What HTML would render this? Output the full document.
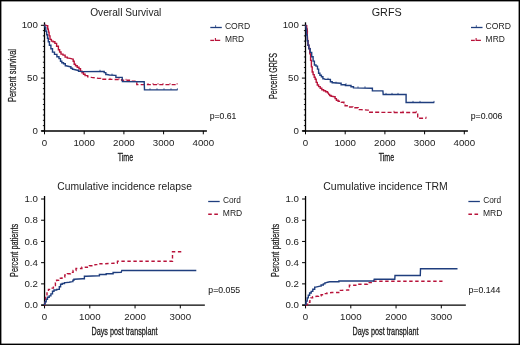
<!DOCTYPE html>
<html><head><meta charset="utf-8"><style>
html,body{margin:0;padding:0;background:#fff;}
body{width:520px;height:345px;overflow:hidden;}
svg{display:block;font-family:"Liberation Sans", sans-serif;will-change:transform;}
svg text{fill:#1c1c1c;}
.b{stroke:#1c1c1c;stroke-width:0.08px;}
</style></head><body>
<svg width="520" height="345" viewBox="0 0 520 345">
<rect x="0" y="0" width="520" height="345" fill="#fff"/>
<line x1="44.5" y1="22.3" x2="44.5" y2="131.5" stroke="#000" stroke-width="1.3"/>
<line x1="41.3" y1="130.9" x2="206.9" y2="130.9" stroke="#000" stroke-width="1.5"/>
<line x1="40.9" y1="130.90" x2="44.5" y2="130.90" stroke="#000" stroke-width="1"/>
<line x1="42.9" y1="125.62" x2="44.5" y2="125.62" stroke="#000" stroke-width="0.9"/>
<line x1="42.9" y1="120.34" x2="44.5" y2="120.34" stroke="#000" stroke-width="0.9"/>
<line x1="42.9" y1="115.06" x2="44.5" y2="115.06" stroke="#000" stroke-width="0.9"/>
<line x1="42.9" y1="109.78" x2="44.5" y2="109.78" stroke="#000" stroke-width="0.9"/>
<line x1="42.9" y1="104.50" x2="44.5" y2="104.50" stroke="#000" stroke-width="0.9"/>
<line x1="42.9" y1="99.22" x2="44.5" y2="99.22" stroke="#000" stroke-width="0.9"/>
<line x1="42.9" y1="93.94" x2="44.5" y2="93.94" stroke="#000" stroke-width="0.9"/>
<line x1="42.9" y1="88.66" x2="44.5" y2="88.66" stroke="#000" stroke-width="0.9"/>
<line x1="42.9" y1="83.38" x2="44.5" y2="83.38" stroke="#000" stroke-width="0.9"/>
<line x1="40.9" y1="78.10" x2="44.5" y2="78.10" stroke="#000" stroke-width="1"/>
<line x1="42.9" y1="72.82" x2="44.5" y2="72.82" stroke="#000" stroke-width="0.9"/>
<line x1="42.9" y1="67.54" x2="44.5" y2="67.54" stroke="#000" stroke-width="0.9"/>
<line x1="42.9" y1="62.26" x2="44.5" y2="62.26" stroke="#000" stroke-width="0.9"/>
<line x1="42.9" y1="56.98" x2="44.5" y2="56.98" stroke="#000" stroke-width="0.9"/>
<line x1="42.9" y1="51.70" x2="44.5" y2="51.70" stroke="#000" stroke-width="0.9"/>
<line x1="42.9" y1="46.42" x2="44.5" y2="46.42" stroke="#000" stroke-width="0.9"/>
<line x1="42.9" y1="41.14" x2="44.5" y2="41.14" stroke="#000" stroke-width="0.9"/>
<line x1="42.9" y1="35.86" x2="44.5" y2="35.86" stroke="#000" stroke-width="0.9"/>
<line x1="42.9" y1="30.58" x2="44.5" y2="30.58" stroke="#000" stroke-width="0.9"/>
<line x1="40.9" y1="25.30" x2="44.5" y2="25.30" stroke="#000" stroke-width="1"/>
<line x1="44.50" y1="130.9" x2="44.50" y2="134.3" stroke="#000" stroke-width="1"/>
<text x="44.5" y="146.2" font-size="9.7" text-anchor="middle" >0</text>
<line x1="84.20" y1="130.9" x2="84.20" y2="134.3" stroke="#000" stroke-width="1"/>
<text x="84.2" y="146.2" font-size="9.7" text-anchor="middle" >1000</text>
<line x1="123.90" y1="130.9" x2="123.90" y2="134.3" stroke="#000" stroke-width="1"/>
<text x="123.9" y="146.2" font-size="9.7" text-anchor="middle" >2000</text>
<line x1="163.60" y1="130.9" x2="163.60" y2="134.3" stroke="#000" stroke-width="1"/>
<text x="163.6" y="146.2" font-size="9.7" text-anchor="middle" >3000</text>
<line x1="203.30" y1="130.9" x2="203.30" y2="134.3" stroke="#000" stroke-width="1"/>
<text x="203.3" y="146.2" font-size="9.7" text-anchor="middle" >4000</text>
<text x="37.9" y="27.7" font-size="9.7" text-anchor="end" >100</text>
<text x="37.9" y="81.3" font-size="9.7" text-anchor="end" >50</text>
<text x="37.9" y="134.1" font-size="9.7" text-anchor="end" >0</text>
<text x="90.2" y="15.8" font-size="10.3" text-anchor="start" textLength="71.2" lengthAdjust="spacingAndGlyphs" >Overall Survival</text>
<text x="125.5" y="160.8" font-size="10.6" text-anchor="middle" textLength="15.6" lengthAdjust="spacingAndGlyphs" stroke="#1c1c1c" stroke-width="0.3">Time</text>
<text transform="translate(15.6,75.5) rotate(-90)" font-size="10.4" text-anchor="middle" stroke="#1c1c1c" stroke-width="0.25" textLength="53" lengthAdjust="spacingAndGlyphs">Percent survival</text>
<text x="209.8" y="118.6" font-size="8.9" text-anchor="start" textLength="26.6" lengthAdjust="spacingAndGlyphs" class="b">p=0.61</text>
<line x1="210.3" y1="27.5" x2="221.8" y2="27.5" stroke="#1f3e7e" stroke-width="1.3"/>
<line x1="215.60000000000002" y1="27.5" x2="215.60000000000002" y2="25.2" stroke="#1f3e7e" stroke-width="0.8"/>
<line x1="210.3" y1="40.4" x2="214.10000000000002" y2="40.4" stroke="#b8133a" stroke-width="1.3"/>
<polyline points="215.4,38.0 215.4,40.4 220.20000000000002,40.4" fill="none" stroke="#b8133a" stroke-width="1.1"/>
<text x="224.9" y="28.8" font-size="8.6" text-anchor="start" textLength="25.3" lengthAdjust="spacingAndGlyphs" >CORD</text>
<text x="224.9" y="41.8" font-size="8.6" text-anchor="start" textLength="19.2" lengthAdjust="spacingAndGlyphs" >MRD</text>
<polyline points="44.3,25.3 45.3,25.3 47.1,25.7 47.7,25.7 47.7,29.0 48.2,29.0 48.8,32.4 49.1,32.4 49.1,35.9 49.4,35.9 50.0,35.9 50.0,39.4 50.5,39.4 51.4,39.4 51.4,41.1 52.3,41.1 53.1,41.1 53.1,41.7 54.0,41.7 54.9,41.7 54.9,43.4 55.7,43.4 56.6,43.4 56.6,46.3 57.5,46.3 58.4,46.3 58.4,49.8 59.2,49.8 59.6,49.8 59.6,52.0 60.0,52.0 61.0,52.0 61.0,54.1 62.0,54.1 63.0,54.1 63.0,55.1 64.1,55.1 65.1,55.1 65.1,57.1 66.1,57.1 67.3,57.1 67.3,58.1 68.6,58.1 71.2,58.6 72.7,59.1 73.2,59.1 73.2,61.2 73.7,61.2 74.2,61.2 74.2,64.2 74.7,64.2 75.5,64.2 75.5,65.7 76.2,65.7 77.2,65.7 77.2,67.2 78.3,67.2 79.0,67.2 79.0,68.8 79.8,68.8 80.5,68.8 80.5,71.3 81.3,71.3 82.0,71.3 82.0,72.8 82.8,72.8 83.5,72.8 83.5,74.3 84.3,74.3 85.1,74.3 85.1,75.6 85.9,75.6" fill="none" stroke="#b8133a" stroke-width="1.4"/>
<polyline points="85.9,75.6 87.7,75.6 87.7,76.9 89.4,76.9 91.4,77.4 96.0,77.9 98.5,78.4 100.6,78.4 100.6,79.2 102.7,79.2 121.0,79.6 121.8,79.6 121.8,80.2 122.5,80.2 129.4,80.2 129.4,81.2 136.3,81.2 136.8,81.2 136.8,84.6 137.2,84.6 177.2,84.6" fill="none" stroke="#b8133a" stroke-width="1.4" stroke-dasharray="4,2.2"/>
<polyline points="44.3,25.3 44.7,25.3 45.3,27.8 45.8,27.8 45.8,31.3 46.2,31.3 46.7,31.3 46.7,34.7 47.1,34.7 47.5,34.7 47.5,38.2 47.9,38.2 48.3,38.2 48.3,41.7 48.8,41.7 49.4,41.7 49.4,45.2 50.0,45.2 50.9,45.2 50.9,48.7 51.7,48.7 52.5,48.7 52.5,52.1 53.4,52.1 54.5,52.1 54.5,54.4 55.7,54.4 56.9,54.4 56.9,56.8 58.1,56.8 59.0,56.8 59.0,58.6 60.0,58.6 60.5,58.6 60.5,61.2 61.0,61.2 61.8,61.2 61.8,62.7 62.5,62.7 63.5,62.7 63.5,63.7 64.6,63.7 65.3,63.7 65.3,65.7 66.1,65.7 68.1,66.2 70.1,66.7 70.9,66.7 70.9,68.3 71.7,68.3 72.5,68.3 72.5,69.3 73.2,69.3 75.2,69.8 77.2,70.3 78.5,70.3 78.5,71.3 79.8,71.3 81.8,71.6 103.7,71.4 104.2,71.4 104.2,72.6 104.6,72.6 105.8,72.6 105.8,74.5 107.0,74.5 109.4,75.0 115.2,75.4 115.9,75.4 115.9,77.4 116.6,77.4 122.2,77.4 122.4,81.5 144.2,81.7 144.5,89.9 177.6,89.9" fill="none" stroke="#1f3e7e" stroke-width="1.4"/>
<line x1="100" y1="71.4" x2="100" y2="69.80000000000001" stroke="#1f3e7e" stroke-width="0.8"/>
<line x1="112" y1="75.2" x2="112" y2="73.60000000000001" stroke="#1f3e7e" stroke-width="0.8"/>
<line x1="150" y1="89.9" x2="150" y2="88.30000000000001" stroke="#1f3e7e" stroke-width="0.8"/>
<line x1="157" y1="89.9" x2="157" y2="88.30000000000001" stroke="#1f3e7e" stroke-width="0.8"/>
<line x1="164" y1="89.9" x2="164" y2="88.30000000000001" stroke="#1f3e7e" stroke-width="0.8"/>
<line x1="171" y1="89.9" x2="171" y2="88.30000000000001" stroke="#1f3e7e" stroke-width="0.8"/>
<line x1="177.4" y1="89.9" x2="177.4" y2="88.30000000000001" stroke="#1f3e7e" stroke-width="0.8"/>
<line x1="110" y1="79.4" x2="110" y2="77.80000000000001" stroke="#b8133a" stroke-width="0.8"/>
<line x1="119" y1="79.6" x2="119" y2="78.0" stroke="#b8133a" stroke-width="0.8"/>
<line x1="126" y1="80.4" x2="126" y2="78.80000000000001" stroke="#b8133a" stroke-width="0.8"/>
<line x1="148" y1="84.6" x2="148" y2="83.0" stroke="#b8133a" stroke-width="0.8"/>
<line x1="153" y1="84.6" x2="153" y2="83.0" stroke="#b8133a" stroke-width="0.8"/>
<line x1="158" y1="84.6" x2="158" y2="83.0" stroke="#b8133a" stroke-width="0.8"/>
<line x1="163" y1="84.6" x2="163" y2="83.0" stroke="#b8133a" stroke-width="0.8"/>
<line x1="170" y1="84.6" x2="170" y2="83.0" stroke="#b8133a" stroke-width="0.8"/>
<line x1="177.1" y1="84.6" x2="177.1" y2="83.0" stroke="#b8133a" stroke-width="0.8"/>
<line x1="305.5" y1="22.3" x2="305.5" y2="131.5" stroke="#000" stroke-width="1.3"/>
<line x1="302.3" y1="130.9" x2="467.9" y2="130.9" stroke="#000" stroke-width="1.5"/>
<line x1="301.9" y1="130.90" x2="305.5" y2="130.90" stroke="#000" stroke-width="1"/>
<line x1="303.9" y1="125.62" x2="305.5" y2="125.62" stroke="#000" stroke-width="0.9"/>
<line x1="303.9" y1="120.34" x2="305.5" y2="120.34" stroke="#000" stroke-width="0.9"/>
<line x1="303.9" y1="115.06" x2="305.5" y2="115.06" stroke="#000" stroke-width="0.9"/>
<line x1="303.9" y1="109.78" x2="305.5" y2="109.78" stroke="#000" stroke-width="0.9"/>
<line x1="303.9" y1="104.50" x2="305.5" y2="104.50" stroke="#000" stroke-width="0.9"/>
<line x1="303.9" y1="99.22" x2="305.5" y2="99.22" stroke="#000" stroke-width="0.9"/>
<line x1="303.9" y1="93.94" x2="305.5" y2="93.94" stroke="#000" stroke-width="0.9"/>
<line x1="303.9" y1="88.66" x2="305.5" y2="88.66" stroke="#000" stroke-width="0.9"/>
<line x1="303.9" y1="83.38" x2="305.5" y2="83.38" stroke="#000" stroke-width="0.9"/>
<line x1="301.9" y1="78.10" x2="305.5" y2="78.10" stroke="#000" stroke-width="1"/>
<line x1="303.9" y1="72.82" x2="305.5" y2="72.82" stroke="#000" stroke-width="0.9"/>
<line x1="303.9" y1="67.54" x2="305.5" y2="67.54" stroke="#000" stroke-width="0.9"/>
<line x1="303.9" y1="62.26" x2="305.5" y2="62.26" stroke="#000" stroke-width="0.9"/>
<line x1="303.9" y1="56.98" x2="305.5" y2="56.98" stroke="#000" stroke-width="0.9"/>
<line x1="303.9" y1="51.70" x2="305.5" y2="51.70" stroke="#000" stroke-width="0.9"/>
<line x1="303.9" y1="46.42" x2="305.5" y2="46.42" stroke="#000" stroke-width="0.9"/>
<line x1="303.9" y1="41.14" x2="305.5" y2="41.14" stroke="#000" stroke-width="0.9"/>
<line x1="303.9" y1="35.86" x2="305.5" y2="35.86" stroke="#000" stroke-width="0.9"/>
<line x1="303.9" y1="30.58" x2="305.5" y2="30.58" stroke="#000" stroke-width="0.9"/>
<line x1="301.9" y1="25.30" x2="305.5" y2="25.30" stroke="#000" stroke-width="1"/>
<line x1="305.50" y1="130.9" x2="305.50" y2="134.3" stroke="#000" stroke-width="1"/>
<text x="305.5" y="146.2" font-size="9.7" text-anchor="middle" >0</text>
<line x1="345.20" y1="130.9" x2="345.20" y2="134.3" stroke="#000" stroke-width="1"/>
<text x="345.2" y="146.2" font-size="9.7" text-anchor="middle" >1000</text>
<line x1="384.90" y1="130.9" x2="384.90" y2="134.3" stroke="#000" stroke-width="1"/>
<text x="384.9" y="146.2" font-size="9.7" text-anchor="middle" >2000</text>
<line x1="424.60" y1="130.9" x2="424.60" y2="134.3" stroke="#000" stroke-width="1"/>
<text x="424.6" y="146.2" font-size="9.7" text-anchor="middle" >3000</text>
<line x1="464.30" y1="130.9" x2="464.30" y2="134.3" stroke="#000" stroke-width="1"/>
<text x="464.3" y="146.2" font-size="9.7" text-anchor="middle" >4000</text>
<text x="298.9" y="27.7" font-size="9.7" text-anchor="end" >100</text>
<text x="298.9" y="81.3" font-size="9.7" text-anchor="end" >50</text>
<text x="298.9" y="134.1" font-size="9.7" text-anchor="end" >0</text>
<text x="371.7" y="15.8" font-size="10.3" text-anchor="start" textLength="30" lengthAdjust="spacingAndGlyphs" >GRFS</text>
<text x="386.5" y="160.8" font-size="10.6" text-anchor="middle" textLength="15.6" lengthAdjust="spacingAndGlyphs" stroke="#1c1c1c" stroke-width="0.3">Time</text>
<text transform="translate(276.6,76) rotate(-90)" font-size="10.4" text-anchor="middle" stroke="#1c1c1c" stroke-width="0.25" textLength="46" lengthAdjust="spacingAndGlyphs">Percent GRFS</text>
<text x="470.8" y="118.6" font-size="8.9" text-anchor="start" textLength="31.6" lengthAdjust="spacingAndGlyphs" class="b">p=0.006</text>
<line x1="471.0129" y1="27.5" x2="482.5129" y2="27.5" stroke="#1f3e7e" stroke-width="1.3"/>
<line x1="476.3129" y1="27.5" x2="476.3129" y2="25.2" stroke="#1f3e7e" stroke-width="0.8"/>
<line x1="471.0129" y1="40.4" x2="474.8129" y2="40.4" stroke="#b8133a" stroke-width="1.3"/>
<polyline points="476.1129,38.0 476.1129,40.4 480.9129,40.4" fill="none" stroke="#b8133a" stroke-width="1.1"/>
<text x="485.6129" y="28.8" font-size="8.6" text-anchor="start" textLength="25.3" lengthAdjust="spacingAndGlyphs" >CORD</text>
<text x="485.6129" y="41.8" font-size="8.6" text-anchor="start" textLength="19.2" lengthAdjust="spacingAndGlyphs" >MRD</text>
<polyline points="305.6,25.3 306.3,25.6 306.7,25.6 306.7,28.5 307.1,28.5 307.4,31.0 307.3,35.0 307.7,40.8 308.0,40.8 308.0,45.2 308.4,45.2 308.9,45.2 308.9,48.5 309.3,48.5 309.8,48.5 309.8,53.9 310.2,53.9 310.6,53.9 310.6,60.4 311.0,60.4 311.4,60.4 311.4,66.9 311.8,66.9 312.2,66.9 312.2,72.0 312.6,72.0 313.1,72.0 313.1,74.6 313.7,74.6 314.2,74.6 314.2,77.2 314.7,77.2 315.2,77.2 315.2,79.3 315.7,79.3 316.2,79.3 316.2,82.4 316.8,82.4 317.3,82.4 317.3,85.0 317.8,85.0 318.6,85.0 318.6,86.6 319.4,86.6 320.2,86.6 320.2,88.2 321.0,88.2 321.8,88.2 321.8,89.7 322.5,89.7 323.6,89.7 323.6,90.8 324.6,90.8 325.6,90.8 325.6,91.8 326.7,91.8 327.5,91.8 327.5,92.9 328.3,92.9 328.8,94.4 329.6,94.4 329.6,95.5 330.4,95.5 331.1,95.5 331.1,96.3 331.9,96.3 334.5,96.8 335.1,96.8 335.1,98.6 335.6,98.6 336.4,98.6 336.4,100.2 337.1,100.2" fill="none" stroke="#b8133a" stroke-width="1.4"/>
<polyline points="337.1,100.2 338.1,100.2 338.1,101.2 339.2,101.2 341.3,101.2 341.3,102.3 343.4,102.3 343.9,102.3 343.9,104.4 344.4,104.4 345.1,104.4 345.1,105.8 345.9,105.8 348.0,105.8 348.0,107.0 350.2,107.0 352.8,107.0 352.8,107.8 355.4,107.8 358.1,107.8 358.1,109.6 360.9,109.6 367.6,110.1 368.9,110.1 368.9,112.2 370.2,112.2 385.0,112.4 417.7,112.5 417.7,118.2 426.3,118.2" fill="none" stroke="#b8133a" stroke-width="1.4" stroke-dasharray="4,2.2"/>
<polyline points="305.6,25.3 305.7,25.3 306.2,29.2 306.5,29.2 306.5,35.0 306.9,35.0 307.2,35.0 307.2,40.8 307.6,40.8 308.0,40.8 308.0,45.2 308.3,45.2 308.9,45.2 308.9,48.8 309.5,48.8 310.2,48.8 310.2,52.4 311.0,52.4 311.7,52.4 311.7,56.8 312.4,56.8 313.1,56.8 313.1,61.1 313.9,61.1 314.4,61.1 314.4,65.0 315.0,65.0 316.0,65.0 316.0,66.1 317.0,66.1 317.5,66.1 317.5,69.1 318.0,69.1 318.6,69.1 318.6,73.2 319.1,73.2 319.9,73.2 319.9,75.2 320.6,75.2 321.4,75.2 321.4,76.7 322.1,76.7 322.9,76.7 322.9,78.7 323.6,78.7 325.1,79.2 329.7,79.4 330.4,79.4 330.4,81.8 331.2,81.8 332.2,81.8 332.2,82.8 333.3,82.8 340.4,83.3 341.1,83.3 341.1,84.8 341.9,84.8 345.4,84.8 345.4,85.5 349.0,85.5 351.0,85.5 351.0,86.8 353.0,86.8 353.5,86.8 353.5,87.9 354.0,87.9 372.0,88.2 372.4,88.2 372.4,90.9 372.8,90.9 382.9,90.9 383.2,94.5 406.1,94.5 406.1,102.5 434.3,102.5" fill="none" stroke="#1f3e7e" stroke-width="1.4"/>
<line x1="328" y1="79.4" x2="328" y2="77.80000000000001" stroke="#1f3e7e" stroke-width="0.8"/>
<line x1="336" y1="83.3" x2="336" y2="81.7" stroke="#1f3e7e" stroke-width="0.8"/>
<line x1="346" y1="84.8" x2="346" y2="83.2" stroke="#1f3e7e" stroke-width="0.8"/>
<line x1="358" y1="88" x2="358" y2="86.4" stroke="#1f3e7e" stroke-width="0.8"/>
<line x1="365" y1="88" x2="365" y2="86.4" stroke="#1f3e7e" stroke-width="0.8"/>
<line x1="386" y1="94.5" x2="386" y2="92.9" stroke="#1f3e7e" stroke-width="0.8"/>
<line x1="392" y1="94.5" x2="392" y2="92.9" stroke="#1f3e7e" stroke-width="0.8"/>
<line x1="398" y1="94.5" x2="398" y2="92.9" stroke="#1f3e7e" stroke-width="0.8"/>
<line x1="413" y1="102.5" x2="413" y2="100.9" stroke="#1f3e7e" stroke-width="0.8"/>
<line x1="420" y1="102.5" x2="420" y2="100.9" stroke="#1f3e7e" stroke-width="0.8"/>
<line x1="434" y1="102.5" x2="434" y2="100.9" stroke="#1f3e7e" stroke-width="0.8"/>
<line x1="394" y1="112.4" x2="394" y2="110.80000000000001" stroke="#b8133a" stroke-width="0.8"/>
<line x1="403" y1="112.4" x2="403" y2="110.80000000000001" stroke="#b8133a" stroke-width="0.8"/>
<line x1="416.3" y1="112.5" x2="416.3" y2="110.9" stroke="#b8133a" stroke-width="0.8"/>
<line x1="426.1" y1="118.2" x2="426.1" y2="116.60000000000001" stroke="#b8133a" stroke-width="0.8"/>
<line x1="44.55" y1="196" x2="44.55" y2="305.70000000000005" stroke="#000" stroke-width="1.3"/>
<line x1="41.25" y1="305.1" x2="204.85000000000002" y2="305.1" stroke="#000" stroke-width="1.4"/>
<line x1="41.05" y1="305.10" x2="44.55" y2="305.10" stroke="#000" stroke-width="1"/>
<text x="37.949999999999996" y="308.2" font-size="9.7" text-anchor="end" >0.0</text>
<line x1="41.05" y1="283.88" x2="44.55" y2="283.88" stroke="#000" stroke-width="1"/>
<text x="37.949999999999996" y="286.98" font-size="9.7" text-anchor="end" >0.2</text>
<line x1="41.05" y1="262.66" x2="44.55" y2="262.66" stroke="#000" stroke-width="1"/>
<text x="37.949999999999996" y="265.76" font-size="9.7" text-anchor="end" >0.4</text>
<line x1="41.05" y1="241.44" x2="44.55" y2="241.44" stroke="#000" stroke-width="1"/>
<text x="37.949999999999996" y="244.54" font-size="9.7" text-anchor="end" >0.6</text>
<line x1="41.05" y1="220.22" x2="44.55" y2="220.22" stroke="#000" stroke-width="1"/>
<text x="37.949999999999996" y="223.32" font-size="9.7" text-anchor="end" >0.8</text>
<line x1="41.05" y1="199.00" x2="44.55" y2="199.00" stroke="#000" stroke-width="1"/>
<text x="37.949999999999996" y="202.1" font-size="9.7" text-anchor="end" >1.0</text>
<line x1="44.55" y1="305.1" x2="44.55" y2="308.40000000000003" stroke="#000" stroke-width="1"/>
<text x="44.55" y="320" font-size="9.7" text-anchor="middle" >0</text>
<line x1="89.80" y1="305.1" x2="89.80" y2="308.40000000000003" stroke="#000" stroke-width="1"/>
<text x="89.8" y="320" font-size="9.7" text-anchor="middle" >1000</text>
<line x1="135.05" y1="305.1" x2="135.05" y2="308.40000000000003" stroke="#000" stroke-width="1"/>
<text x="135.05" y="320" font-size="9.7" text-anchor="middle" >2000</text>
<line x1="180.30" y1="305.1" x2="180.30" y2="308.40000000000003" stroke="#000" stroke-width="1"/>
<text x="180.3" y="320" font-size="9.7" text-anchor="middle" >3000</text>
<text x="57.3" y="189.6" font-size="10.3" text-anchor="start" textLength="134.6" lengthAdjust="spacingAndGlyphs" >Cumulative incidence relapse</text>
<text x="124.5" y="334.6" font-size="10.2" text-anchor="middle" textLength="66" lengthAdjust="spacingAndGlyphs" stroke="#1c1c1c" stroke-width="0.3">Days post transplant</text>
<text transform="translate(17.8,250.4) rotate(-90)" font-size="10" text-anchor="middle" stroke="#1c1c1c" stroke-width="0.25" textLength="53" lengthAdjust="spacingAndGlyphs">Percent patients</text>
<text x="208.3" y="292.6" font-size="8.9" text-anchor="start" textLength="31.8" lengthAdjust="spacingAndGlyphs" class="b">p=0.055</text>
<line x1="208.2" y1="201.5" x2="219.7" y2="201.5" stroke="#1f3e7e" stroke-width="1.3"/>
<line x1="208.2" y1="214.3" x2="218.2" y2="214.3" stroke="#b8133a" stroke-width="1.4" stroke-dasharray="3.6,2.5"/>
<text x="223.0" y="203.35" font-size="8.6" text-anchor="start" textLength="18.0" lengthAdjust="spacingAndGlyphs" >Cord</text>
<text x="222.79999999999998" y="215.7" font-size="8.6" text-anchor="start" textLength="19.4" lengthAdjust="spacingAndGlyphs" >MRD</text>
<polyline points="44.4,305.0 44.7,305.0 44.7,301.1 45.0,301.1 45.6,301.1 45.6,295.9 46.3,295.9 47.0,295.9 47.0,292.0 47.6,292.0 48.5,292.0 48.5,289.4 49.5,289.4 50.8,289.4 50.8,288.1 52.1,288.1 53.4,288.1 53.4,285.5 54.7,285.5 55.4,285.5 55.4,282.9 56.0,282.9 56.6,282.9 56.6,280.3 57.3,280.3 58.6,280.3 58.6,278.3 60.0,278.3 62.0,278.3 62.0,277.0 63.9,277.0 64.8,277.0 64.8,275.0 65.8,275.0 67.4,275.0 67.4,273.7 69.1,273.7 70.4,273.7 70.4,272.4 71.7,272.4 73.1,272.4 73.1,270.5 74.5,270.5 76.0,270.5 76.0,268.5 77.5,268.5 81.9,268.5 81.9,267.3 86.2,267.3 89.4,267.3 89.4,265.7 92.5,265.7 95.0,265.7 95.0,264.6 97.5,264.6 100.0,264.6 100.0,263.8 102.5,263.8 113.8,263.3 117.3,263.3 117.5,261.3 172.5,261.3 172.5,251.8 181.3,251.8" fill="none" stroke="#b8133a" stroke-width="1.4" stroke-dasharray="3.4,2.6"/>
<polyline points="44.4,305.0 44.6,303.7 45.1,303.7 45.1,301.8 45.6,301.8 46.2,301.8 46.2,299.2 46.9,299.2 47.5,299.2 47.5,297.2 48.2,297.2 49.2,297.2 49.2,295.9 50.2,295.9 50.9,295.9 50.9,293.9 51.5,293.9 52.5,293.9 52.5,291.3 53.4,291.3 54.0,291.3 54.0,290.0 54.7,290.0 56.7,290.0 56.7,289.4 58.6,289.4 59.3,289.4 59.3,286.8 60.0,286.8 60.6,286.8 60.6,284.2 61.3,284.2 62.2,284.2 62.2,283.5 63.2,283.5 64.5,283.5 64.5,282.6 65.8,282.6 69.1,282.2 72.3,281.6 72.9,281.6 72.9,280.3 73.6,280.3 73.9,280.3 73.9,279.2 74.3,279.2 82.5,278.8 84.4,278.8 84.4,276.3 86.2,276.3 98.8,275.8 99.4,275.8 99.4,274.5 100.0,274.5 106.2,274.5 106.2,273.8 112.5,273.8 113.1,273.8 113.1,272.5 113.8,272.5 121.2,272.2 121.8,270.5 196.3,270.5" fill="none" stroke="#1f3e7e" stroke-width="1.4"/>
<line x1="305.55" y1="196" x2="305.55" y2="305.70000000000005" stroke="#000" stroke-width="1.3"/>
<line x1="302.25" y1="305.1" x2="465.85" y2="305.1" stroke="#000" stroke-width="1.4"/>
<line x1="302.05" y1="305.10" x2="305.55" y2="305.10" stroke="#000" stroke-width="1"/>
<text x="298.95" y="308.2" font-size="9.7" text-anchor="end" >0.0</text>
<line x1="302.05" y1="283.88" x2="305.55" y2="283.88" stroke="#000" stroke-width="1"/>
<text x="298.95" y="286.98" font-size="9.7" text-anchor="end" >0.2</text>
<line x1="302.05" y1="262.66" x2="305.55" y2="262.66" stroke="#000" stroke-width="1"/>
<text x="298.95" y="265.76" font-size="9.7" text-anchor="end" >0.4</text>
<line x1="302.05" y1="241.44" x2="305.55" y2="241.44" stroke="#000" stroke-width="1"/>
<text x="298.95" y="244.54" font-size="9.7" text-anchor="end" >0.6</text>
<line x1="302.05" y1="220.22" x2="305.55" y2="220.22" stroke="#000" stroke-width="1"/>
<text x="298.95" y="223.32" font-size="9.7" text-anchor="end" >0.8</text>
<line x1="302.05" y1="199.00" x2="305.55" y2="199.00" stroke="#000" stroke-width="1"/>
<text x="298.95" y="202.1" font-size="9.7" text-anchor="end" >1.0</text>
<line x1="305.55" y1="305.1" x2="305.55" y2="308.40000000000003" stroke="#000" stroke-width="1"/>
<text x="305.55" y="320" font-size="9.7" text-anchor="middle" >0</text>
<line x1="350.80" y1="305.1" x2="350.80" y2="308.40000000000003" stroke="#000" stroke-width="1"/>
<text x="350.8" y="320" font-size="9.7" text-anchor="middle" >1000</text>
<line x1="396.05" y1="305.1" x2="396.05" y2="308.40000000000003" stroke="#000" stroke-width="1"/>
<text x="396.05" y="320" font-size="9.7" text-anchor="middle" >2000</text>
<line x1="441.30" y1="305.1" x2="441.30" y2="308.40000000000003" stroke="#000" stroke-width="1"/>
<text x="441.3" y="320" font-size="9.7" text-anchor="middle" >3000</text>
<text x="323.3" y="189.6" font-size="10.3" text-anchor="start" textLength="124.5" lengthAdjust="spacingAndGlyphs" >Cumulative incidence TRM</text>
<text x="385.5" y="334.6" font-size="10.2" text-anchor="middle" textLength="66" lengthAdjust="spacingAndGlyphs" stroke="#1c1c1c" stroke-width="0.3">Days post transplant</text>
<text transform="translate(278.8,250.4) rotate(-90)" font-size="10" text-anchor="middle" stroke="#1c1c1c" stroke-width="0.25" textLength="53" lengthAdjust="spacingAndGlyphs">Percent patients</text>
<text x="468.5" y="292.6" font-size="8.9" text-anchor="start" textLength="31.8" lengthAdjust="spacingAndGlyphs" class="b">p=0.144</text>
<line x1="468.3909" y1="201.5" x2="479.8909" y2="201.5" stroke="#1f3e7e" stroke-width="1.3"/>
<line x1="468.3909" y1="214.3" x2="478.3909" y2="214.3" stroke="#b8133a" stroke-width="1.4" stroke-dasharray="3.6,2.5"/>
<text x="483.1909" y="203.35" font-size="8.6" text-anchor="start" textLength="18.0" lengthAdjust="spacingAndGlyphs" >Cord</text>
<text x="482.9909" y="215.7" font-size="8.6" text-anchor="start" textLength="19.4" lengthAdjust="spacingAndGlyphs" >MRD</text>
<polyline points="305.6,305.0 306.7,305.0 306.7,304.3 307.8,304.3 308.6,304.3 308.6,302.2 309.4,302.2 309.9,302.2 309.9,299.5 310.4,299.5 310.9,299.5 310.9,297.9 311.5,297.9 312.6,297.9 312.6,296.8 313.6,296.8 316.9,296.3 318.5,296.3 318.5,295.7 320.1,295.7 321.1,295.7 321.1,294.7 322.2,294.7 323.8,294.7 323.8,293.6 325.4,293.6 327.0,293.6 327.0,293.0 328.7,293.0 331.9,292.5 339.4,292.5 340.4,292.5 340.4,290.4 341.5,290.4 347.5,290.0 349.4,290.0 349.4,285.2 351.2,285.2 358.1,285.2 358.1,284.3 365.0,284.3 367.5,284.3 367.5,282.6 370.0,282.6 372.5,282.6 372.5,281.3 375.0,281.3 442.5,281.3" fill="none" stroke="#b8133a" stroke-width="1.4" stroke-dasharray="3.4,2.6"/>
<polyline points="305.6,305.0 305.6,304.3 306.1,304.3 306.1,301.1 306.7,301.1 307.2,301.1 307.2,297.9 307.8,297.9 308.3,297.9 308.3,295.2 308.8,295.2 309.6,295.2 309.6,293.0 310.4,293.0 311.2,293.0 311.2,291.4 312.0,291.4 312.8,291.4 312.8,289.3 313.6,289.3 314.7,289.3 314.7,287.1 315.8,287.1 317.9,286.6 320.1,286.1 321.1,286.1 321.1,285.0 322.2,285.0 323.3,285.0 323.3,283.9 324.4,283.9 324.9,283.9 324.9,282.9 325.4,282.9 327.6,282.3 329.7,281.8 338.3,281.8 338.9,281.8 338.9,281.0 339.4,281.0 373.8,281.0 374.2,279.3 394.8,279.3 395.0,275.5 420.3,275.5 420.5,268.8 457.5,268.8" fill="none" stroke="#1f3e7e" stroke-width="1.4"/>
<rect x="0.7" y="0.7" width="518.6" height="343.6" fill="none" stroke="#000" stroke-width="1.4"/>
</svg>
</body></html>
